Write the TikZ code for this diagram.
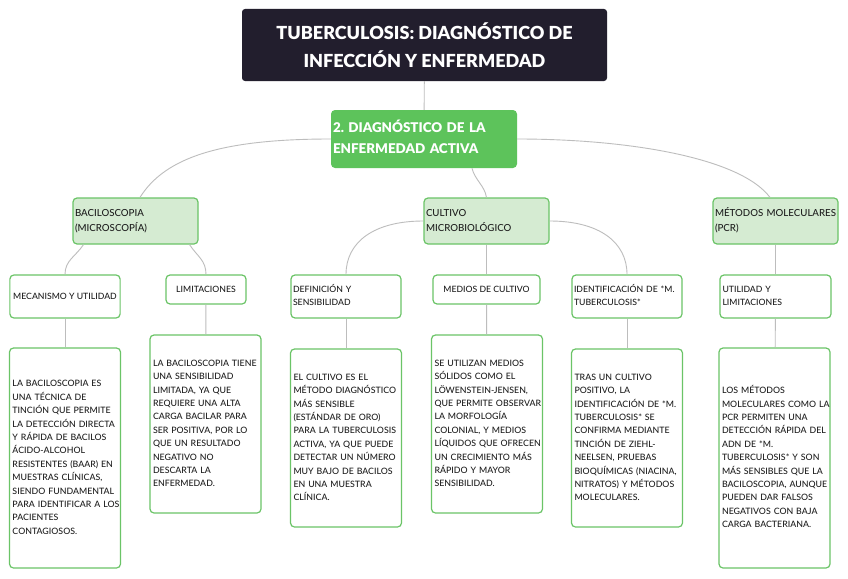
\documentclass[tikz,border=0pt]{standalone}
\usepackage{fontspec}
\IfFontExistsTF{Lato Medium}{\setmainfont{Lato Medium}}{\setmainfont{Lato}}
\newfontfamily\heavyfont{Lato Black}
\usepackage{tikz}
\usetikzlibrary{positioning, calc}
\definecolor{titledark}{HTML}{221E2D}
\definecolor{maingreen}{HTML}{5DC35B}
\definecolor{catfill}{HTML}{D5EBD2}
\definecolor{boxgreen}{HTML}{6BC467}
\definecolor{linkgray}{HTML}{BDBDBD}
\definecolor{inkgray}{HTML}{1E1E1E}
\frenchspacing
% lines that never wrap
\newcommand{\boxlines}[1]{\begin{tabular}{@{}l@{}}#1\end{tabular}}

\begin{document}
\begin{tikzpicture}[x=1pt, y=-1pt,
  topicbox/.style={rectangle, fill=titledark, rounded corners=3pt, text=white,
                   minimum width=365pt, minimum height=72pt, align=center,
                   font=\heavyfont\fontsize{18}{27.5}\selectfont},
  mainbox/.style={rectangle, fill=maingreen, rounded corners=4pt, text=white,
                  minimum width=186pt, minimum height=58pt, inner xsep=2pt,
                  text width=182pt, align=left,
                  font=\heavyfont\fontsize{13.4}{20.7}\selectfont},
  catbox/.style={rectangle, draw=boxgreen, fill=catfill, line width=1.2pt,
                 rounded corners=4pt, minimum width=125pt, minimum height=46pt,
                 inner xsep=2pt, text width=121pt, align=left, text=inkgray,
                 font=\fontsize{9.7}{15}\selectfont},
  subbox/.style={rectangle, draw=boxgreen, fill=white, line width=1.2pt,
                 rounded corners=4pt, minimum height=43pt, inner xsep=2pt,
                 text width=106pt, align=left, text=inkgray,
                 font=\fontsize{8.7}{13.3}\selectfont},
  tagbox/.style={rectangle, draw=boxgreen, fill=white, line width=1.2pt,
                 rounded corners=4pt, minimum height=29pt, align=center,
                 text=inkgray, font=\fontsize{8.7}{13.3}\selectfont},
  notebox/.style={rectangle, draw=boxgreen, fill=white, line width=1.2pt,
                  rounded corners=4pt, inner xsep=3pt, text width=105pt,
                  align=left, text=inkgray, font=\fontsize{8.8}{13.4}\selectfont},
  link/.style={draw=linkgray, line width=0.9pt}
]
  \useasboundingbox[fill=white] (0,0) rectangle (848,578);

  % root and active disease
  \node[topicbox] (root) at (424.5,45) {TUBERCULOSIS: DIAGNÓSTICO DE\\INFECCIÓN Y ENFERMEDAD};
  \node[mainbox] (active) at (424,139) {\boxlines{2. DIAGNÓSTICO DE LA\\ENFERMEDAD ACTIVA}};

  % categories
  \node[catbox] (baci) at (135.5,221) {\boxlines{BACILOSCOPIA\\(MICROSCOPÍA)}};
  \node[catbox] (cult) at (486.5,221) {\boxlines{CULTIVO\\MICROBIOLÓGICO}};
  \node[catbox] (pcr)  at (775.5,221) {\boxlines{MÉTODOS MOLECULARES\\(PCR)}};

  % sub topics
  \node[tagbox, minimum width=110pt, minimum height=43pt] (mecan) at (65,296.5) {MECANISMO Y UTILIDAD};
  \node[tagbox, minimum width=80pt] (limit) at (206,289.5) {LIMITACIONES};
  \node[subbox, minimum width=110pt] (defin) at (346,296.5) {\boxlines{DEFINICIÓN Y\\SENSIBILIDAD}};
  \node[tagbox, minimum width=107pt] (medios) at (486.5,289.5) {MEDIOS DE CULTIVO};
  \node[subbox, minimum width=110pt] (ident) at (627,296.5) {\boxlines{IDENTIFICACIÓN DE *M.\\TUBERCULOSIS*}};
  \node[subbox, minimum width=111pt] (utili) at (775.5,296.5) {\boxlines{UTILIDAD Y\\LIMITACIONES}};

  % notes
  \node[notebox, minimum height=220pt] (nmecan) at (65,458)
    {\boxlines{LA BACILOSCOPIA ES\\UNA TÉCNICA DE\\TINCIÓN QUE PERMITE\\LA DETECCIÓN DIRECTA\\Y RÁPIDA DE BACILOS\\ÁCIDO-ALCOHOL\\RESISTENTES (BAAR) EN\\MUESTRAS CLÍNICAS,\\SIENDO FUNDAMENTAL\\PARA IDENTIFICAR A LOS\\PACIENTES\\CONTAGIOSOS.}};
  \node[notebox, minimum height=178pt] (nlimit) at (205.5,424)
    {\boxlines{LA BACILOSCOPIA TIENE\\UNA SENSIBILIDAD\\LIMITADA, YA QUE\\REQUIERE UNA ALTA\\CARGA BACILAR PARA\\SER POSITIVA, POR LO\\QUE UN RESULTADO\\NEGATIVO NO\\DESCARTA LA\\ENFERMEDAD.}};
  \node[notebox, minimum height=178pt] (ndefin) at (346,438)
    {\boxlines{EL CULTIVO ES EL\\MÉTODO DIAGNÓSTICO\\MÁS SENSIBLE\\(ESTÁNDAR DE ORO)\\PARA LA TUBERCULOSIS\\ACTIVA, YA QUE PUEDE\\DETECTAR UN NÚMERO\\MUY BAJO DE BACILOS\\EN UNA MUESTRA\\CLÍNICA.}};
  \node[notebox, minimum height=178pt] (nmedios) at (487,424)
    {\boxlines{SE UTILIZAN MEDIOS\\SÓLIDOS COMO EL\\LÖWENSTEIN-JENSEN,\\QUE PERMITE OBSERVAR\\LA MORFOLOGÍA\\COLONIAL, Y MEDIOS\\LÍQUIDOS QUE OFRECEN\\UN CRECIMIENTO MÁS\\RÁPIDO Y MAYOR\\SENSIBILIDAD.}};
  \node[notebox, minimum height=178pt] (nident) at (627,438)
    {\boxlines{TRAS UN CULTIVO\\POSITIVO, LA\\IDENTIFICACIÓN DE *M.\\TUBERCULOSIS* SE\\CONFIRMA MEDIANTE\\TINCIÓN DE ZIEHL-\\NEELSEN, PRUEBAS\\BIOQUÍMICAS (NIACINA,\\NITRATOS) Y MÉTODOS\\MOLECULARES.}};
  \node[notebox, minimum height=220pt] (nutili) at (774.5,458)
    {\boxlines{LOS MÉTODOS\\MOLECULARES COMO LA\\PCR PERMITEN UNA\\DETECCIÓN RÁPIDA DEL\\ADN DE *M.\\TUBERCULOSIS* Y SON\\MÁS SENSIBLES QUE LA\\BACILOSCOPIA, AUNQUE\\PUEDEN DAR FALSOS\\NEGATIVOS CON BAJA\\CARGA BACTERIANA.}};

  % connectors
  \draw[link] (root) -- (active);
  \draw[link] (active.west) .. controls +(-110,0) and +(25,-40) .. ([xshift=4.5pt]baci.north);
  \draw[link] ([xshift=48pt]active.south) .. controls +(3,12) and +(-2,-12) .. (cult.north);
  \draw[link] (active.east) .. controls +(110,0) and +(-30,-40) .. ([xshift=-5.5pt]pcr.north);

  \draw[link] ([xshift=-52pt]baci.south) .. controls +(-8,12) and +(0,-14) .. (mecan.north);
  \draw[link] ([xshift=54pt]baci.south) .. controls +(8,12) and +(0,-14) .. (limit.north);
  \draw[link] (cult.west) .. controls +(-50,0) and +(0,-32) .. (defin.north);
  \draw[link] (cult) -- (medios);
  \draw[link] (cult.east) .. controls +(50,0) and +(0,-32) .. (ident.north);
  \draw[link] (pcr) -- (utili);

  \draw[link] (mecan) -- (nmecan);
  \draw[link] (limit) -- (nlimit);
  \draw[link] (defin) -- (ndefin);
  \draw[link] (medios) -- (nmedios);
  \draw[link] (ident) -- (nident);
  \draw[link] (utili) -- (nutili);
\end{tikzpicture}
\end{document}
